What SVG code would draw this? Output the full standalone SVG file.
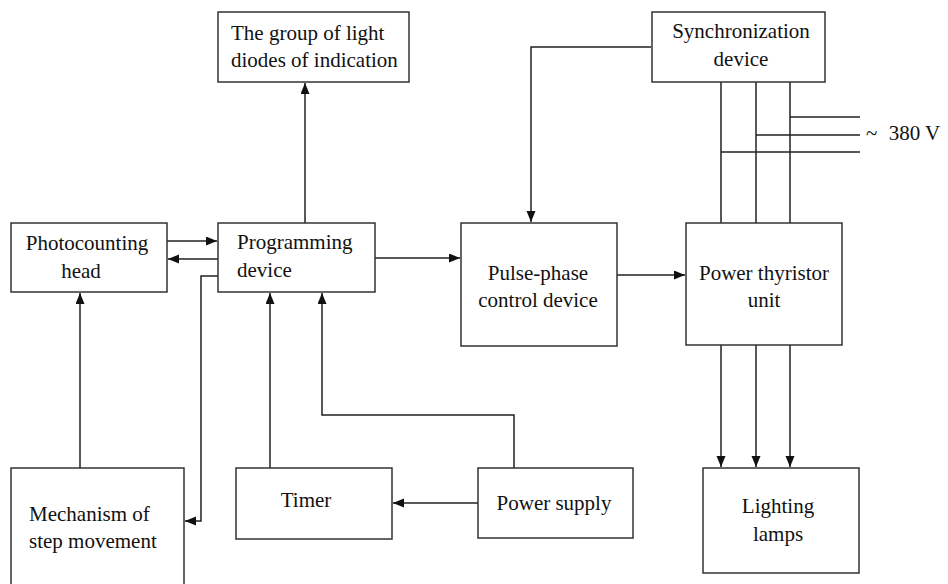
<svg xmlns="http://www.w3.org/2000/svg" width="948" height="584" viewBox="0 0 948 584">
<style>
.box{fill:#fff;stroke:#333;stroke-width:1.5}
.t{font-family:"Liberation Serif","Times New Roman",serif;font-size:21px;fill:#111}
.m{text-anchor:middle}
.c{fill:none;stroke:#222;stroke-width:1.5}
</style>
<defs>
<marker id="ah" markerUnits="userSpaceOnUse" markerWidth="12" markerHeight="10" refX="11" refY="4.5" orient="auto">
<path d="M0,0 L11,4.5 L0,9 z" fill="#111"/>
</marker>
</defs>
<rect width="948" height="584" fill="#fff"/>
<g id="connectors">
<path class="c" d="M305,223 V83" marker-end="url(#ah)"/>
<path class="c" d="M167,241 H217" marker-end="url(#ah)"/>
<path class="c" d="M218,259 H168" marker-end="url(#ah)"/>
<path class="c" d="M218,276 H201 V521 H185" marker-end="url(#ah)"/>
<path class="c" d="M80,468 V293" marker-end="url(#ah)"/>
<path class="c" d="M270,468 V293" marker-end="url(#ah)"/>
<path class="c" d="M514,468 V415 H322 V293" marker-end="url(#ah)"/>
<path class="c" d="M478,503 H393" marker-end="url(#ah)"/>
<path class="c" d="M375,258 H460" marker-end="url(#ah)"/>
<path class="c" d="M617,275 H685" marker-end="url(#ah)"/>
<path class="c" d="M651,47 H531 V222" marker-end="url(#ah)"/>
<path class="c" d="M721,82 V223 M756,82 V223 M790,82 V223"/>
<path class="c" d="M790,117 H860 M756,135 H860 M721,152 H860"/>
<path class="c" d="M721,345 V467" marker-end="url(#ah)"/>
<path class="c" d="M756,345 V467" marker-end="url(#ah)"/>
<path class="c" d="M790,345 V467" marker-end="url(#ah)"/>
</g>
<g id="diodes">
<rect class="box" x="218" y="12" width="191" height="70"/>
<text class="t" x="231" y="40">The group of light</text>
<text class="t" x="231" y="67">diodes of indication</text>
</g>
<g id="sync">
<rect class="box" x="652" y="12" width="173" height="70"/>
<text class="t m" x="741" y="38">Synchronization</text>
<text class="t m" x="741" y="66">device</text>
</g>
<text class="t" x="866" y="140">~ <tspan dx="6">380 V</tspan></text>
<g id="photo">
<rect class="box" x="11" y="223" width="156" height="69"/>
<text class="t m" x="87" y="250">Photocounting</text>
<text class="t m" x="81" y="278">head</text>
</g>
<g id="prog">
<rect class="box" x="218" y="223" width="157" height="69"/>
<text class="t" x="237" y="249">Programming</text>
<text class="t" x="237" y="277">device</text>
</g>
<g id="pulse">
<rect class="box" x="461" y="223" width="156" height="123"/>
<text class="t m" x="538" y="280">Pulse-phase</text>
<text class="t m" x="538" y="307">control device</text>
</g>
<g id="thyristor">
<rect class="box" x="686" y="223" width="156" height="122"/>
<text class="t m" x="764" y="280">Power thyristor</text>
<text class="t m" x="764" y="307">unit</text>
</g>
<g id="mechanism">
<rect class="box" x="11" y="468" width="173" height="120"/>
<text class="t" x="29" y="521">Mechanism of</text>
<text class="t" x="29" y="548">step movement</text>
</g>
<g id="timer">
<rect class="box" x="236" y="468" width="156" height="71"/>
<text class="t m" x="306" y="507">Timer</text>
</g>
<g id="power">
<rect class="box" x="478" y="468" width="155" height="70"/>
<text class="t m" x="554" y="510">Power supply</text>
</g>
<g id="lamps">
<rect class="box" x="703" y="468" width="156" height="105"/>
<text class="t m" x="778" y="513">Lighting</text>
<text class="t m" x="778" y="541">lamps</text>
</g>
</svg>
